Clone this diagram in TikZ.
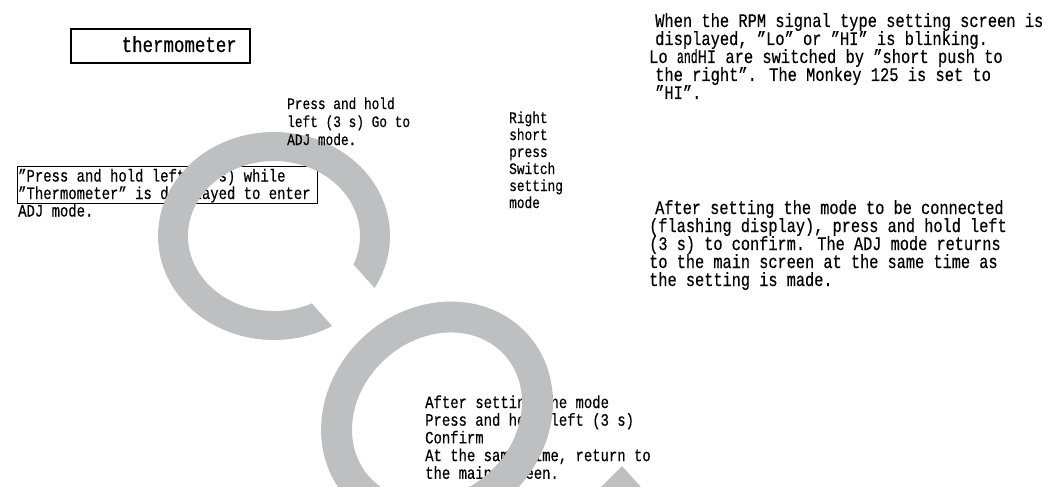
\documentclass[tikz,border=0pt]{standalone}
\usepackage{fontspec}
\usepackage{graphicx}
\setmainfont[FakeStretch=0.8,FakeBold=0.4]{Liberation Mono}
\definecolor{wm}{RGB}{190,191,193}
\newcommand\fsz[1]{\fontsize{#1pt}{#1pt}\selectfont}
\newcommand\blocklines[2]{\vtop{\baselineskip=#1pt\lineskiplimit=-100pt\lineskip=0pt\halign{##\hfil\cr#2\crcr}}}
\begin{document}
\begin{tikzpicture}[x=1pt,y=-1pt,
  txt/.style={inner sep=0pt, anchor=base west, text=black},
  frame/.style={draw=black, inner sep=0pt, anchor=north west},
  wmark/.style={fill=wm, draw=none},
  letter/.style={x={(0.669pt,-0.743pt)}, y={(0.743pt,0.669pt)}}]
\useasboundingbox (0,0) rectangle (1060,487);
\fill[white] (0,0) rectangle (1060,487);

% thermometer box
\node[frame, line width=2pt, minimum width=179pt, minimum height=34pt] (thermobox) at (70,28) {};
\node[txt, anchor=base east, font=\fsz{21.8}] (thermo) at (237,52) {thermometer};

% left boxed note
\node[frame, line width=1.4pt, minimum width=300pt, minimum height=37pt] (enterbox) at (17,166) {};
\node[txt, font=\fsz{17.4}] (enter) at (18,181.5) {\blocklines{17.5}{%
”Press and hold left (3 s) while\cr
”Thermometer” is displayed to enter\cr
ADJ mode.}};

% right short press note
\node[txt, font=\fsz{16}] (rshort) at (509,123) {\blocklines{17}{%
Right\cr
short\cr
press\cr
Switch\cr
setting\cr
mode}};

% RPM note
\node[txt, font=\fsz{19.25}] (rpm) at (649,27) {\blocklines{18}{%
\hspace*{6pt}When the RPM signal type setting screen is\cr
\hspace*{6pt}displayed, ”Lo” or ”HI” is blinking.\cr
Lo \scalebox{0.75}[1]{and}HI are switched by ”short push to\cr
\hspace*{6pt}the right”. The Monkey 125 is set to\cr
\hspace*{6pt}”HI”.}};

% confirm note right
\node[txt, font=\fsz{19.1}] (confirm) at (649,214) {\blocklines{18}{%
\hspace*{6pt}After setting the mode to be connected\cr
(flashing display), press and hold left\cr
(3 s) to confirm. The ADJ mode returns\cr
to the main screen at the same time as\cr
the setting is made.}};

% bottom note
\node[txt, font=\fsz{17.4}] (ret) at (425,408) {\blocklines{17.7}{%
After setting the mode\cr
Press and hold left (3 s)\cr
Confirm\cr
At the same time, return to\cr
the main screen.}};

% watermark
\begin{scope}
\clip (0,0) rectangle (1060,487);
% letter C
\begin{scope}[shift={(274,236)}]
\begin{scope}[letter]
\clip (0,-17) -- (400,-17) -- (400,-400) -- (-400,-400) -- (-400,400) -- (400,400) -- (400,40) -- (0,40) -- cycle;
\begin{scope}[x=1pt,y=-1pt]
\fill[wmark, even odd rule] (0,0) ellipse [x radius=116, y radius=104] (0,0) ellipse [x radius=86, y radius=75];
\end{scope}
\end{scope}
\end{scope}
% letter O
\begin{scope}[shift={(437,416)}, letter]
\fill[wmark, even odd rule] (0,0) ellipse [x radius=108, y radius=122] (0,0) ellipse [x radius=77, y radius=91];
\end{scope}
% top of the next letter
\fill[wmark] (622,466) -- (649,496) -- (592,496) -- cycle;
\end{scope}

% press and hold note (printed over the watermark)
\node[txt, font=\fsz{16}] (hold) at (287,109) {\blocklines{18}{%
Press and hold\cr
left (3 s) Go to\cr
ADJ mode.}};
\end{tikzpicture}
\end{document}
